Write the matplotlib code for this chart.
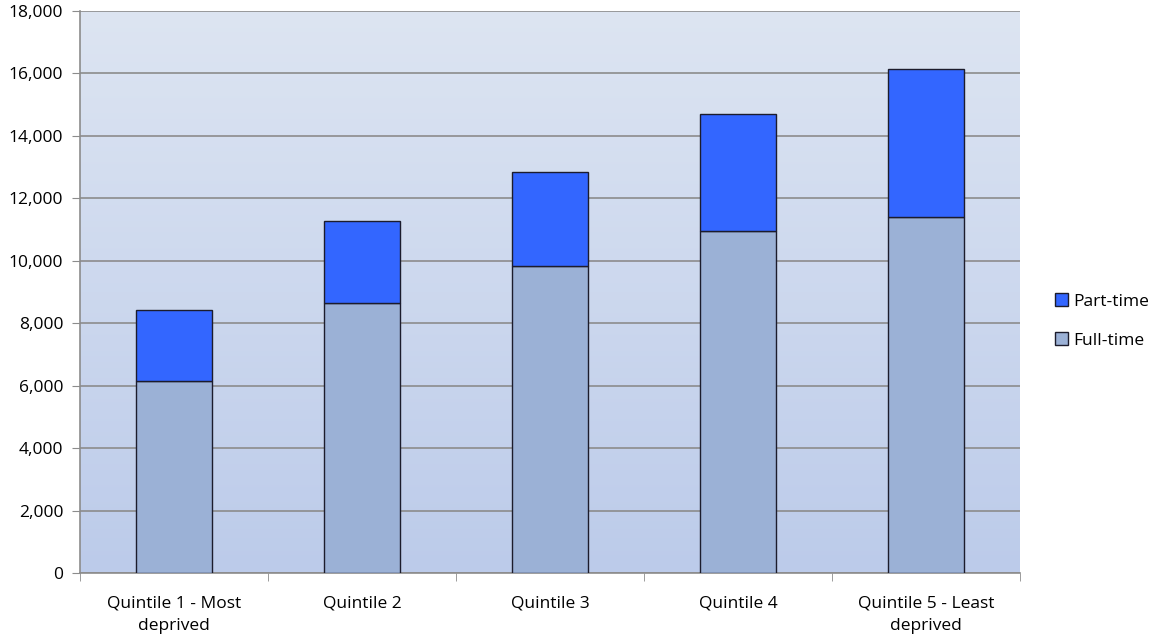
import numpy as np
import matplotlib.pyplot as plt
from matplotlib.ticker import FuncFormatter, FixedLocator
from matplotlib.colors import LinearSegmentedColormap

categories = ["Quintile 1 - Most\ndeprived", "Quintile 2", "Quintile 3",
              "Quintile 4", "Quintile 5 - Least\ndeprived"]
full_time = [6140, 8650, 9830, 10940, 11410]
totals = [8410, 11270, 12840, 14680, 16150]
part_time = [t - f for t, f in zip(totals, full_time)]

plt.rcParams['font.family'] = ['Open Sans', 'DejaVu Sans']

fig = plt.figure(figsize=(11.51, 6.37), dpi=100)
ax = fig.add_axes([80 / 1151, 1 - 573.3 / 637, 940 / 1151, 562.6 / 637])

# gradient background
grad = LinearSegmentedColormap.from_list("bg", ["#bccbea", "#dde5f2"])
ax.imshow(np.linspace(0, 1, 256).reshape(-1, 1), aspect='auto', cmap=grad,
          extent=[-0.5, 4.5, 0, 18000], origin='lower', zorder=0)

x = np.arange(len(categories))
ax.bar(x, full_time, width=0.4, color="#9bb1d6", edgecolor="#1c1c2c",
       linewidth=1, label="Full-time", zorder=3)
ax.bar(x, part_time, width=0.4, bottom=full_time, color="#3366ff",
       edgecolor="#1c1c2c", linewidth=1, label="Part-time", zorder=3)

ax.set_xlim(-0.5, 4.5)
ax.set_ylim(0, 18000)
ax.set_yticks(np.arange(0, 18001, 2000))
ax.yaxis.set_major_formatter(FuncFormatter(lambda v, p: f"{int(v):,}"))
ax.grid(axis='y', color="#8c8c8c", linewidth=1.2, zorder=1)

ax.set_xticks(x)
ax.set_xticklabels(categories, fontsize=12.5, linespacing=1.55)
ax.xaxis.set_minor_locator(FixedLocator(np.arange(-0.5, 4.6, 1)))
ax.tick_params(axis='x', which='major', length=0, pad=16)
ax.tick_params(axis='x', which='minor', length=6, color="#8c8c8c", direction='out')
ax.tick_params(axis='y', length=6, color="#8c8c8c", labelsize=12.5, pad=6)

for s in ['top', 'right']:
    ax.spines[s].set_visible(False)
for s in ['left', 'bottom']:
    ax.spines[s].set_color("#8c8c8c")
    ax.spines[s].set_linewidth(1.2)

handles, labels = ax.get_legend_handles_labels()
fig.legend(handles[::-1], labels[::-1], loc='center left',
           bbox_to_anchor=(1048 / 1151, 1 - 321 / 637), frameon=False,
           fontsize=12.5, handlelength=0.75, handleheight=0.75,
           handletextpad=0.3, labelspacing=1.3, borderaxespad=0)

fig.savefig("out.png", dpi=100)
